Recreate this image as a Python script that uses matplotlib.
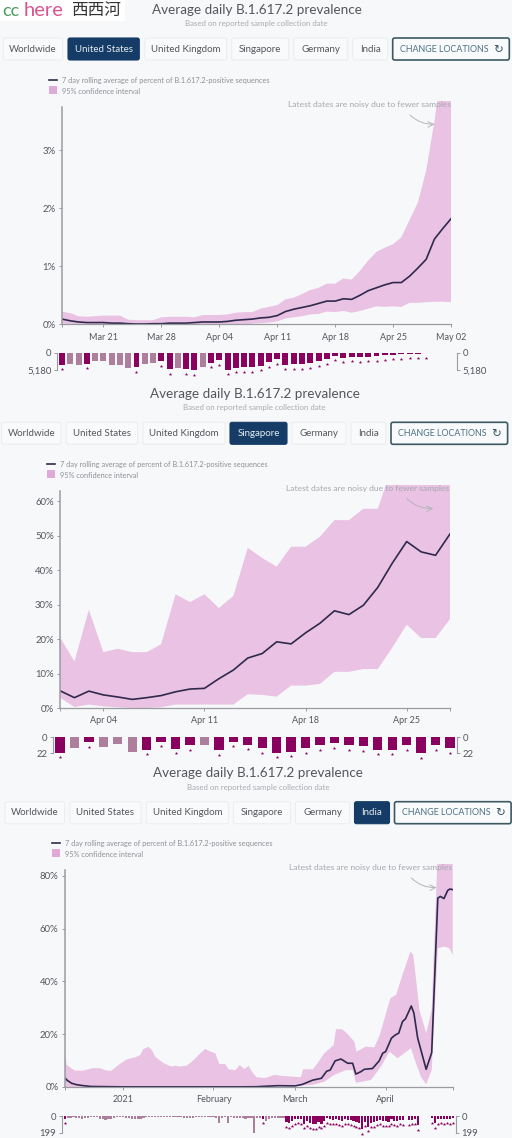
"""Recreate the three B.1.617.2 prevalence panels (US, Singapore, India)."""
import matplotlib

matplotlib.use("Agg")
import matplotlib.pyplot as plt
from matplotlib.patches import FancyBboxPatch, Rectangle

W, H = 512, 1138
BG = "#f7f8fa"
PINK = "#e9c2e4"
SWATCH = "#dfa9d8"
LINE = "#2f2a4d"
DARK_BAR = "#8a005f"
PALE_BAR = "#ad7f9c"
AXIS = "#9b9ca1"
TEXT = "#55565b"
NAVY = "#153c66"

plt.rcParams["font.family"] = ["Lato", "DejaVu Sans"]

# ---- United States, one value per day from Mar 16
us_mean = [0.09, 0.06, 0.04, 0.03, 0.03, 0.03, 0.02, 0.02, 0.01, 0.005, 0.005, 0.01,
           0.01, 0.02, 0.02, 0.02, 0.03, 0.04, 0.04, 0.04, 0.05, 0.07, 0.08, 0.09,
           0.11, 0.12, 0.15, 0.22, 0.26, 0.29, 0.32, 0.36, 0.40, 0.40, 0.44, 0.43,
           0.50, 0.58, 0.63, 0.68, 0.72, 0.72, 0.83, 0.97, 1.12, 1.47, 1.65, 1.82]
us_upper = [0.22, 0.19, 0.14, 0.13, 0.14, 0.15, 0.15, 0.15, 0.08, 0.07, 0.07, 0.07,
            0.12, 0.13, 0.13, 0.13, 0.12, 0.16, 0.16, 0.16, 0.17, 0.20, 0.21, 0.21,
            0.27, 0.30, 0.33, 0.43, 0.46, 0.52, 0.59, 0.63, 0.70, 0.70, 0.79, 0.77,
            0.92, 1.10, 1.25, 1.32, 1.38, 1.50, 1.80, 2.10, 2.65, 3.50, 4.50, 5.00]
us_lower = [0.01, 0.0, 0.0, 0.0, 0.0, 0.0, 0.0, 0.0, 0.0, 0.0, 0.0, 0.0,
            0.0, 0.0, 0.0, 0.0, 0.0, 0.0, 0.0, 0.0, 0.0, 0.0, 0.0, 0.01,
            0.02, 0.03, 0.05, 0.10, 0.12, 0.14, 0.17, 0.18, 0.22, 0.21, 0.23, 0.20,
            0.23, 0.27, 0.31, 0.30, 0.31, 0.30, 0.37, 0.37, 0.38, 0.39, 0.39, 0.38]
us_samples = [3550, 3250, 3550, 3350, 2440, 2440, 3760, 3760, 4570, 4370, 3350, 3050,
              2540, 4980, 4470, 4880, 5180, 4170, 2950, 2240, 5080, 4570, 4370, 4270,
              3960, 2850, 1930, 3560, 3450, 3450, 3150, 2440, 1830, 810, 1420, 1120,
              1320, 1120, 1020, 610, 510, 410, 200, 200, 100]
us_pale = [1, 2, 4, 5, 6, 7, 8, 10, 11, 14, 17]

# ---- Singapore, one value per day from Apr 1
sg_mean = [5.0, 3.0, 4.9, 3.8, 3.2, 2.5, 3.0, 3.6, 4.7, 5.5, 5.7, 8.5, 11.0, 14.5,
           15.8, 19.2, 18.6, 21.8, 24.6, 28.2, 27.1, 29.8, 35.0, 42.0, 48.3, 45.3, 44.3, 50.5]
sg_upper = [20.5, 13.5, 28.5, 16.2, 17.2, 16.2, 16.2, 18.5, 33.0, 30.7, 33.0, 29.0, 32.5, 46.5,
            43.5, 41.0, 46.8, 46.8, 49.7, 54.5, 54.5, 57.8, 57.8, 70.0, 75.0, 72.0, 72.0, 75.0]
sg_lower = [3.0, 0.3, 1.0, 0.5, 0.2, 0.0, 0.0, 0.2, 1.0, 1.0, 1.0, 1.0, 1.0, 4.0,
            3.8, 3.3, 6.5, 6.5, 7.0, 10.5, 10.5, 11.3, 11.3, 17.5, 24.2, 20.3, 20.3, 25.8]
sg_samples = [21, 15, 7, 13, 9, 20, 17, 6, 16, 11, 11, 18, 6, 10,
              15, 21, 20, 15, 11, 8, 11, 12, 17, 17, 11, 22, 11, 15]
sg_pale = [1, 3, 4, 5, 10]

# ---- India, read at irregular days counted from Dec 12
in_mean_days = [0, 1, 2.4, 4, 6.4, 9, 20, 51, 60, 65.5, 73, 79, 81.5, 85, 88, 89.8, 91, 92.7,
                94.7, 97, 98.7, 99.8, 101.5, 102.7, 105.5, 107.8, 109, 110, 112, 113.3, 114.5,
                115.8, 116.8, 118.8, 119.7, 121, 123.9, 125.8, 127.9, 128.8, 130, 131.3, 132, 133]
in_mean = [3.5, 2.4, 1.4, 0.9, 0.5, 0.2, 0.05, 0.05, 0.05, 0.1, 0.5, 0.4, 1.0, 2.6, 3.3, 6.0, 6.4, 9.9,
           10.6, 9.0, 9.0, 4.9, 5.8, 6.7, 7.0, 9.9, 12.8, 13.4, 18.5, 19.7, 20.4,
           24.8, 25.8, 30.7, 28.0, 18.5, 6.7, 13.0, 71.6, 72.2, 71.4, 74.5, 75.0, 74.8]
in_upper_days = [0, 0.7, 2.4, 3.5, 6.4, 9.8, 12.1, 14.4, 16.1, 18.4, 21.3, 24.1, 25.9, 27, 28.7, 29.9,
                 31, 33.9, 36.7, 37.9, 39, 41.9, 44.2, 46.5, 48.2, 49.9, 51.6, 53, 55, 56.2, 58.5,
                 60, 61.6, 63, 64.2, 65.7, 69, 71.8, 74.7, 81, 81.7, 85, 86.7, 89, 92.2, 93, 95,
                 96.4, 99.3, 100, 103.3, 106.1, 108, 109.5, 111.6, 113.6, 115.8, 118.5, 119.5,
                 121.6, 123.9, 125.8, 127.9, 133]
in_upper = [14.0, 8.3, 7.0, 6.2, 6.2, 7.2, 7.1, 6.2, 6.2, 8.3, 10.5, 11.2, 12.1, 14.4, 15.2, 14.0,
            11.5, 9.0, 7.7, 8.1, 7.7, 8.1, 10.2, 12.8, 14.4, 13.4, 12.8, 8.7, 8.7, 6.7, 6.4,
            8.3, 6.8, 8.0, 5.8, 3.7, 3.4, 4.6, 4.2, 3.7, 6.7, 6.7, 9.0, 12.8, 15.9, 21.9, 21.9,
            20.7, 17.2, 13.4, 15.3, 15.0, 19.7, 25.4, 33.6, 34.9, 42.5, 51.3, 50.0,
            29.2, 20.4, 29.2, 90.0, 90.0]
in_lower_days = [0, 70, 85, 89, 92.4, 96.4, 98.7, 99.8, 102.1, 105, 108.4, 111.3, 114.1, 116.4,
                 118.7, 120.4, 122.1, 123.9, 125.8, 127.9, 130.1, 131.9, 133]
in_lower = [0.0, 0.0, 0.8, 2.0, 4.6, 6.4, 6.4, 1.6, 2.0, 2.7, 7.7, 13.4, 10.9, 12.8,
            14.7, 9.0, 3.9, 1.0, 6.4, 52.6, 53.2, 52.6, 50.0]
in_samples = [30, 18, 24, 14, 18, 24, 36, 24, 18, 12, 12, 14, 36, 36, 44, 36, 36, 24, 12, 10,
              14, 24, 24, 30, 30, 36, 36, 24, 14, 12, 10, 14, 14, 10, 10, 10, 10, 10, 14, 10,
              10, 18, 24, 24, 18, 12, 10, 10, 10, 10, 14, 10, 24, 80, 18, 14, 80, 12, 24, 18,
              18, 24, 36, 24, 18, 199, 24, 18, 30, 60, 36, 28, 24, 28, 28, 24,
              76, 88, 64, 40, 32, 36, 92, 60, 88, 96, 100, 72, 92, 64, 28, 40, 44, 36, 48, 60,
              40, 44, 52, 60, 72, 84, 160, 68, 130, 80, 72, 56, 44, 60, 64, 70, 40, 56, 60, 44,
              52, 0, 48, 44, 40, 110, 0, 0, 0, 0, 28, 88, 36, 32, 36, 32, 36, 28]
in_dark_from = 76
in_starred_early = [0, 68]

tick_us = [5, 12, 19, 26, 33, 40, 47]
tick_us_labels = ["Mar 21", "Mar 28", "Apr 04", "Apr 11", "Apr 18", "Apr 25", "May 02"]
tick_sg = [3, 10, 17, 24]
tick_sg_labels = ["Apr 04", "Apr 11", "Apr 18", "Apr 25"]
tick_in = [20, 51, 79, 110]
tick_in_labels = ["2021", "February", "March", "April"]
buttons = ["Worldwide", "United States", "United Kingdom", "Singapore", "Germany", "India"]
button_edges = [(3.3, 62.7), (68, 139.3), (144.7, 226.7), (231.7, 288.7), (293.7, 347.7), (352.7, 387.7)]

fig = plt.figure(figsize=(W / 100, H / 100), dpi=100, facecolor=BG)
ui = fig.add_axes([0, 0, 1, 1], zorder=5)
ui.set_xlim(0, W)
ui.set_ylim(H, 0)
ui.axis("off")
ui.patch.set_alpha(0)


def px_axes(x0, y0, x1, y1):
    ax = fig.add_axes([x0 / W, 1 - y1 / H, (x1 - x0) / W, (y1 - y0) / H])
    ax.patch.set_alpha(0)
    return ax


def header(cx, y_title, y_sub, y_btn, dx, active):
    ui.text(cx, y_title, "Average daily B.1.617.2 prevalence", ha="center", va="center",
            fontsize=9.7, color="#55565b")
    ui.text(cx, y_sub, "Based on reported sample collection date", ha="center", va="center",
            fontsize=5.7, color="#a9abaf")
    for name, (a, b) in zip(buttons, button_edges):
        on = name == active
        ui.add_patch(FancyBboxPatch((a + dx, y_btn), b - a, 22, boxstyle="round,pad=0,rounding_size=2",
                                    fc=NAVY if on else "#f9fafb", ec=NAVY if on else "#eceef0", lw=0.8))
        ui.text((a + b) / 2 + dx, y_btn + 11, name, ha="center", va="center", fontsize=7.0,
                color="#e6ebf0" if on else TEXT)
    ui.add_patch(FancyBboxPatch((392.7 + dx, y_btn), 116.6, 22, boxstyle="round,pad=0,rounding_size=2",
                                fc="#f9fafb", ec="#3d5a63", lw=1.2))
    ui.text(400 + dx, y_btn + 11, "CHANGE LOCATIONS", ha="left", va="center", fontsize=6.4, color="#4d7086")
    ui.text(498 + dx, y_btn + 11, "\u21bb", ha="center", va="center", fontsize=8.5, color="#3d5a63",
            family="DejaVu Sans")


def legend(x, y_line):
    ui.plot([x, x + 8], [y_line, y_line], color=LINE, lw=1.2)
    ui.text(x + 13, y_line, "7 day rolling average of percent of B.1.617.2-positive sequences",
            va="center", fontsize=5.35, color="#8f9095")
    ui.add_patch(Rectangle((x, y_line + 6), 8, 8, fc=SWATCH, ec="none"))
    ui.text(x + 13, y_line + 11, "95% confidence interval", va="center", fontsize=5.35, color="#8f9095")


def note(x_right, y, start, end):
    ui.text(x_right, y, "Latest dates are noisy due to fewer samples", ha="right", va="center",
            fontsize=6.1, color="#a6a7ac")
    ui.annotate("", xy=end, xytext=start, arrowprops=dict(arrowstyle="->", color="#b5b5ba", lw=0.7,
                                                          connectionstyle="arc3,rad=0.25"))


def draw_main(box, ndays, xfill, yfill, xline, yline, ytop, spine_top, yticks, xticks, xlabels):
    x0, y0, x1, y1 = box
    ax = px_axes(x0, y0, x1, y1)
    ax.fill(xfill, yfill, color=PINK, lw=0)
    ax.plot(xline, yline, color=LINE, lw=1.2, solid_joinstyle="round")
    ax.set_xlim(0, ndays)
    ax.set_ylim(0, ytop)
    for s in ("top", "right"):
        ax.spines[s].set_visible(False)
    ax.spines["left"].set_bounds(0, spine_top)
    ax.spines["left"].set_color(AXIS)
    ax.spines["left"].set_linewidth(1.1)
    ax.spines["bottom"].set_color(AXIS)
    ax.spines["bottom"].set_linewidth(0.9)
    ax.set_yticks(yticks)
    ax.set_yticklabels([f"{t}%" for t in yticks])
    ax.set_xticks(xticks)
    ax.set_xticklabels(xlabels)
    ax.set_xticks([0, ndays], minor=True)
    ax.tick_params(which="both", color=AXIS, length=2.5, width=0.7, labelcolor=TEXT, labelsize=6.9, pad=2)
    ax.tick_params(axis="x", pad=3.5, labelsize=6.5)
    return ax


def draw_samples(box, left, ppd, samples, pale, starred, top, width, label):
    x0, y0, x1, y1 = box
    ax = px_axes(x0, y0, x1, y1)
    days = list(range(len(samples)))
    colors = [PALE_BAR if d in pale else DARK_BAR for d in days]
    ax.bar(days, samples, width=width, color=colors, lw=0, clip_on=False)
    gap = top * 4.5 / (y1 - y0)
    star_x = [d for d in days if d in starred]
    star_y = [samples[d] + gap for d in star_x]
    ax.plot(star_x, star_y, ls="none", marker="*", ms=2.6, mew=0, color=DARK_BAR, clip_on=False)
    ax.set_xlim((x0 - left) / ppd, (x1 - left) / ppd)
    ax.set_ylim(top, 0)
    ax.set_xticks([])
    ax.set_yticks([0, top])
    ax.set_yticklabels(["0", label])
    for s in ("top", "bottom"):
        ax.spines[s].set_visible(False)
    for s in ("left", "right"):
        ax.spines[s].set_color(AXIS)
        ax.spines[s].set_linewidth(0.8)
    ax.tick_params(axis="y", left=True, right=True, labelleft=True, labelright=True, color=AXIS,
                   length=2.5, width=0.7, labelcolor=TEXT, labelsize=6.9, pad=1.5)


# watermark
ui.add_patch(Rectangle((0, 0), 125, 21, fc="white", ec="none"))
ui.text(2, 10.5, "cc", va="center", fontsize=13, color="#4c9e5c")
ui.text(24, 10.5, "here", va="center", fontsize=14.5, color="#d9558f")
ui.text(71, 10.5, "西西河", va="center", fontsize=12, color="#333333", family=["Noto Sans CJK SC", "DejaVu Sans"])

# United States
header(256.5, 10, 23, 38, 0, "United States")
legend(49.3, 80)
us_days = list(range(48))
draw_main((62, 101, 451, 324.3), 47, us_days + us_days[::-1], us_upper + us_lower[::-1], us_days, us_mean,
          3.85, 3.75, [0, 1, 2, 3], tick_us, tick_us_labels)
draw_samples((57.3, 353, 456.7, 370), 62, 389 / 47, us_samples, us_pale,
             [d for d in range(45) if d not in us_pale], 5180, 0.72, "5,180")
note(450.7, 104.5, (408, 113), (437.3, 124))

# Singapore
header(254.7, 394, 407.3, 422.3, -1.7, "Singapore")
legend(47.3, 464)
sg_days = list(range(28))
draw_main((60, 485, 450, 708), 27, sg_days + sg_days[::-1], sg_upper + sg_lower[::-1], sg_days, sg_mean,
          64.7, 63, [0, 10, 20, 30, 40, 50, 60], tick_sg, tick_sg_labels)
draw_samples((52.7, 737.3, 457.3, 753.3), 60, 390 / 27, sg_samples, sg_pale,
             [d for d in range(28) if d not in sg_pale], 22, 0.65, "22")
note(449.3, 488.7, (405, 496.7), (436, 508.3))

# India
header(258.3, 773.3, 787, 801.7, 1.8, "India")
legend(52, 843)
draw_main((64.7, 864, 452.7, 1087), 133, in_upper_days + in_lower_days[::-1], in_upper + in_lower[::-1],
          in_mean_days, in_mean, 84.5, 82.3, [0, 20, 40, 60, 80], tick_in, tick_in_labels)
in_days = list(range(len(in_samples)))
draw_samples((62, 1116, 456, 1132.7), 64.7, 388 / 133, in_samples,
             [d for d in in_days if d < in_dark_from and d not in in_starred_early],
             in_starred_early + [d for d in in_days if d >= in_dark_from and in_samples[d] > 0],
             199, 0.75, "199")
note(451.7, 867.7, (409.3, 876), (439.3, 887.3))

fig.savefig("out.png", dpi=100, facecolor=BG)
